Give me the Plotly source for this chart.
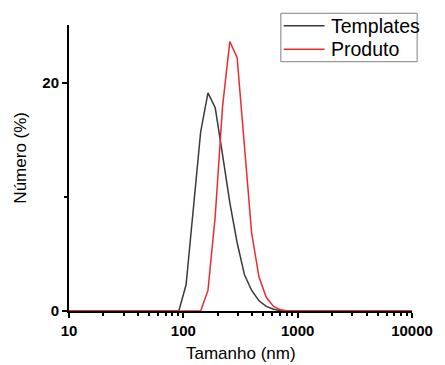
import plotly.graph_objects as go

# DLS size bins (nm)
sizes = [8.721, 10.10, 11.70, 13.54, 15.69, 18.17, 21.04, 24.36, 28.21, 32.67,
         37.84, 43.82, 50.75, 58.77, 68.06, 78.82, 91.28, 105.7, 122.4, 141.8,
         164.2, 190.1, 220.2, 255.0, 295.3, 342.0, 396.1, 458.7, 531.2, 615.1,
         712.4, 825.0, 955.4, 1106, 1281, 1484, 1718, 1990, 2305, 2669,
         3091, 3580, 4145, 4801, 5560, 6439, 7456, 8635, 10000]

templates = [0, 0, 0, 0, 0, 0, 0, 0, 0, 0,
             0, 0, 0, 0, 0, 0, 0, 2.3, 9.0, 15.7,
             19.1, 17.8, 13.7, 9.5, 6.0, 3.2, 1.8, 0.9, 0.4, 0.15,
             0.02, 0, 0, 0, 0, 0, 0, 0, 0, 0,
             0, 0, 0, 0, 0, 0, 0, 0, 0]

produto = [0, 0, 0, 0, 0, 0, 0, 0, 0, 0,
           0, 0, 0, 0, 0, 0, 0, 0, 0, 0,
           1.8, 8.3, 17.9, 23.6, 22.2, 14.3, 6.8, 3.0, 1.2, 0.4,
           0.1, 0, 0, 0, 0, 0, 0, 0, 0, 0,
           0, 0, 0, 0, 0, 0, 0, 0, 0]

series_names = ["Templates", "Produto"]
series_colors = ["#3a3a3a", "#ee2a2f"]

x_ticks = [10, 100, 1000, 10000]
x_ticktext = ["10", "100", "1000", "10000"]
y_ticks = [0, 20]

FONT = "Liberation Sans, Arial, sans-serif"

fig = go.Figure()
for name, ys, col in zip(series_names, [templates, produto], series_colors):
    fig.add_trace(go.Scatter(x=sizes, y=ys, mode="lines", name=name,
                             line=dict(color=col, width=1.5), showlegend=False))

minor_x = []
for dec in [10, 100, 1000]:
    for k in range(2, 10):
        minor_x.append(dec * k)

# manual legend (paper coordinates)
shapes = [dict(type="rect", xref="paper", yref="paper",
               x0=0.6176, x1=1.015, y0=0.8717, y1=1.041,
               line=dict(color="#808080", width=1), fillcolor="white", layer="above")]
annotations = []
leg_y = [0.9976, 0.915]
for name, col, ly in zip(series_names, series_colors, leg_y):
    shapes.append(dict(type="line", xref="paper", yref="paper",
                       x0=0.626, x1=0.745, y0=ly, y1=ly,
                       line=dict(color=col, width=1.5), layer="above"))
    annotations.append(dict(text=name, xref="paper", yref="paper", x=0.757, y=ly,
                            xanchor="left", yanchor="middle", showarrow=False,
                            font=dict(size=19.5, family=FONT, color="black")))

annotations += [
    dict(text="Tamanho (nm)", xref="paper", yref="paper", x=0.5, y=-0.149,
         xanchor="center", yanchor="middle", showarrow=False,
         font=dict(size=17, family=FONT, color="black")),
    dict(text="Número (%)", xref="paper", yref="paper", x=-0.141, y=0.535,
         xanchor="center", yanchor="middle", showarrow=False, textangle=-90,
         font=dict(size=17, family=FONT, color="black")),
]

fig.update_layout(
    width=445, height=365,
    margin=dict(l=69, r=23, t=25, b=54),
    paper_bgcolor="white", plot_bgcolor="white",
    font=dict(family=FONT, color="black"),
    showlegend=False,
    xaxis=dict(type="log", range=[1, 4], showgrid=False, zeroline=False,
               showline=True, linecolor="black", linewidth=2,
               tickvals=x_ticks, ticktext=x_ticktext,
               ticks="outside", ticklen=5, tickwidth=2, tickcolor="black",
               tickfont=dict(size=15, family=FONT, weight="bold"),
               minor=dict(tickvals=minor_x, ticks="outside", ticklen=3,
                          tickwidth=1.5, tickcolor="black"),
               layer="below traces"),
    yaxis=dict(range=[0, 25.05], showgrid=False, zeroline=False,
               showline=True, linecolor="black", linewidth=2,
               tickvals=y_ticks, ticks="outside", ticklen=5, tickwidth=2,
               tickcolor="black",
               tickfont=dict(size=15, family=FONT, weight="bold"),
               minor=dict(tickvals=[10], ticks="outside", ticklen=3,
                          tickwidth=1.5, tickcolor="black"),
               layer="below traces"),
    shapes=shapes,
    annotations=annotations,
)

fig.write_html("out.html")
